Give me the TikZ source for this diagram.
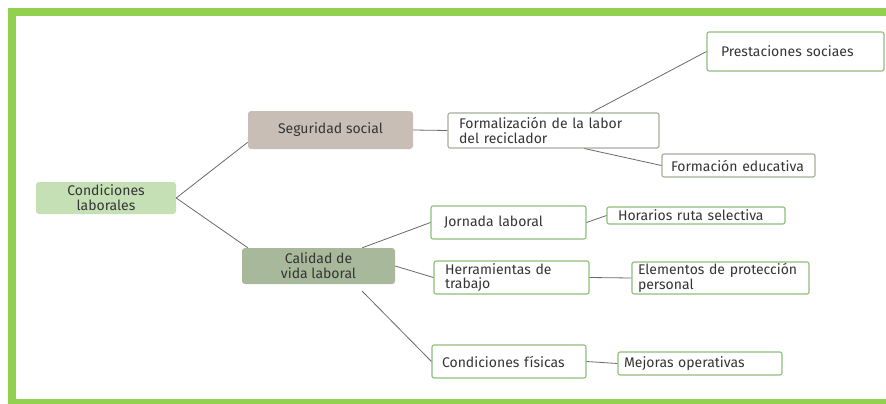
\documentclass[tikz,border=0pt]{standalone}
\usepackage{fontspec}
\setmainfont{Fira Sans}
\definecolor{frame}{HTML}{92D050}
\definecolor{condfill}{HTML}{C5E0B4}
\definecolor{segfill}{HTML}{C9BEB6}
\definecolor{calfill}{HTML}{A8B89A}
\definecolor{boxgreen}{HTML}{8EBE78}
\definecolor{boxgrey}{HTML}{A6AE9E}
\definecolor{txt}{HTML}{353535}
\definecolor{link}{HTML}{6A6A6A}
\tikzset{
  mainbox/.style={rounded corners=3pt, align=center, inner sep=0pt, text=txt,
    font=\fontsize{14}{15}\selectfont},
  wbox/.style={draw=boxgreen, line width=1.1pt, rounded corners=2pt, fill=white,
    align=left, inner ysep=0pt, text=txt, font=\fontsize{14}{14.5}\selectfont},
  gbox/.style={wbox, draw=boxgrey},
  conn/.style={draw=link, line width=0.8pt}
}
\begin{document}
\begin{tikzpicture}[x=1pt,y=-1pt]
\useasboundingbox (0,0) rectangle (886,404);
\fill[white] (0,0) rectangle (886,404);
% frame
\fill[frame] (8,8) rectangle (886,16);
\fill[frame] (8,8) rectangle (16,404);
\fill[frame] (8,399) rectangle (886,404);
% main nodes
\node[mainbox, fill=condfill, minimum width=140pt, minimum height=32pt] (cond) at (106,198) {Condiciones\\laborales};
\node[mainbox, fill=segfill, minimum width=165pt, minimum height=38pt] (seg) at (330.5,130) {Seguridad social};
\node[mainbox, fill=calfill, minimum width=153pt, minimum height=36pt] (cal) at (318.5,266) {Calidad de\\vida laboral};
% white boxes
\node[gbox, inner xsep=11pt, text width=189pt, minimum height=35pt] (form) at (553.5,130.5) {Formalización de la labor\\del reciclador};
\node[wbox, inner xsep=14pt, text width=149pt, minimum height=39pt] (prest) at (795.5,51.5) {Prestaciones sociaes};
\node[gbox, inner xsep=9pt, text width=135pt, minimum height=23pt] (educ) at (738.5,165.5) {Formación educativa};
\node[wbox, inner xsep=13pt, text width=129pt, minimum height=33pt] (jorn) at (508.5,222.5) {Jornada laboral};
\node[wbox, inner xsep=11pt, text width=156pt, minimum height=17pt] (hor) at (696,215.5) {Horarios ruta selectiva};
\node[wbox, inner xsep=11pt, text width=133pt, minimum height=33pt] (herr) at (511.5,277.5) {Herramientas de\\trabajo};
\node[wbox, inner xsep=6pt, text width=165pt, minimum height=32pt] (elem) at (720.5,278) {Elementos de protección\\personal};
\node[wbox, inner xsep=10pt, text width=134pt, minimum height=33pt] (fis) at (509,361.5) {Condiciones físicas};
\node[wbox, inner xsep=6pt, text width=152pt, minimum height=23pt] (mej) at (700,363.5) {Mejoras operativas};
% connectors
\draw[conn] (cond.east) -- ([yshift=7pt]seg.south west);
\draw[conn] (cond.east) -- ([xshift=6pt]cal.north west);
\draw[conn] (seg.east) -- (form.west);
\draw[conn] ([xshift=144pt]form.north west) -- (prest.west);
\draw[conn] ([xshift=137pt]form.south west) -- (educ.west);
\draw[conn] ([xshift=-33pt]cal.north east) -- (jorn.west);
\draw[conn] (cal.east) -- (herr.west);
\draw[conn] ([xshift=-33pt,yshift=-7pt]cal.south east) -- (fis.west);
\draw[conn] (jorn.east) -- (hor.west);
\draw[conn] (herr.east) -- (elem.west);
\draw[conn] (fis.east) -- (mej.west);
\end{tikzpicture}
\end{document}
